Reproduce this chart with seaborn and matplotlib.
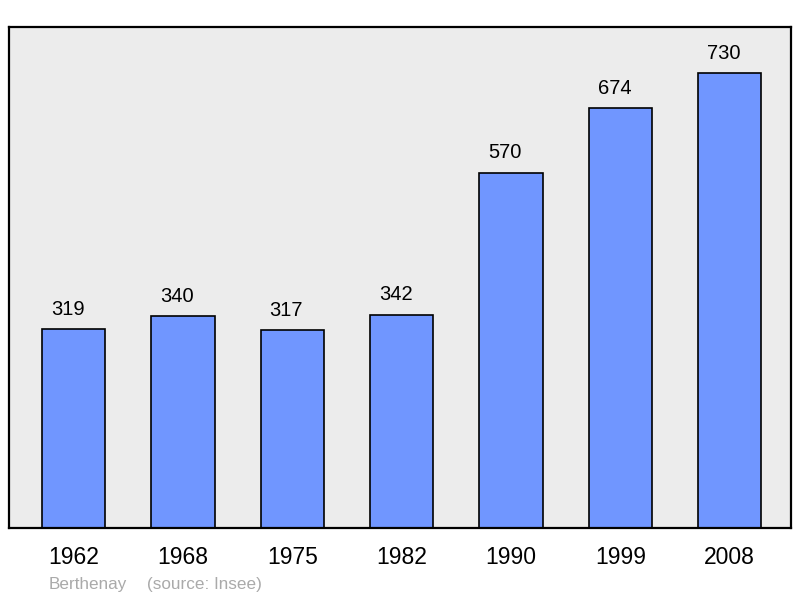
import matplotlib
matplotlib.use("Agg")
import matplotlib.pyplot as plt
import seaborn as sns
import pandas as pd

years = ["1962", "1968", "1975", "1982", "1990", "1999", "2008"]
population = [319, 340, 317, 342, 570, 674, 730]
commune = "Berthenay"
source = "(source: Insee)"

sns.set_theme(style="white")
plt.rcParams['font.family'] = ['Liberation Sans', 'DejaVu Sans']

df = pd.DataFrame({"year": years, "pop": population})

fig = plt.figure(figsize=(8, 5.98), dpi=100)
ax = fig.add_axes([9/800, 1-528/598, 782/800, 501/598])
ax.set_facecolor("#ececec")

sns.barplot(data=df, x="year", y="pop", color="#7096ff", saturation=1,
            edgecolor="black", linewidth=1.2, width=0.58, ax=ax)

for c in ax.containers:
    labels = ax.bar_label(c, labels=[str(v) for v in population], padding=7.5,
                          fontsize=14.5, color="black")
    for lab in labels:
        lab.xyann = (-4.3, 7.5)

ax.set_xlim(-0.59, 6.56)
ax.set_ylim(0, 804)
ax.set_xlabel("")
ax.set_ylabel("")
ax.set_yticks([])
ax.tick_params(axis="x", length=0, pad=13, labelsize=16.5, labelcolor="black")
for s in ax.spines.values():
    s.set_visible(True)
    s.set_color("black")
    s.set_linewidth(1.6)

fig.text(49/800, 1-584/598, commune, color="#aaaaaa", fontsize=12.3, va="center", ha="left")
fig.text(147/800, 1-584/598, source, color="#aaaaaa", fontsize=12.3, va="center", ha="left")

fig.savefig("out.png", dpi=100)
